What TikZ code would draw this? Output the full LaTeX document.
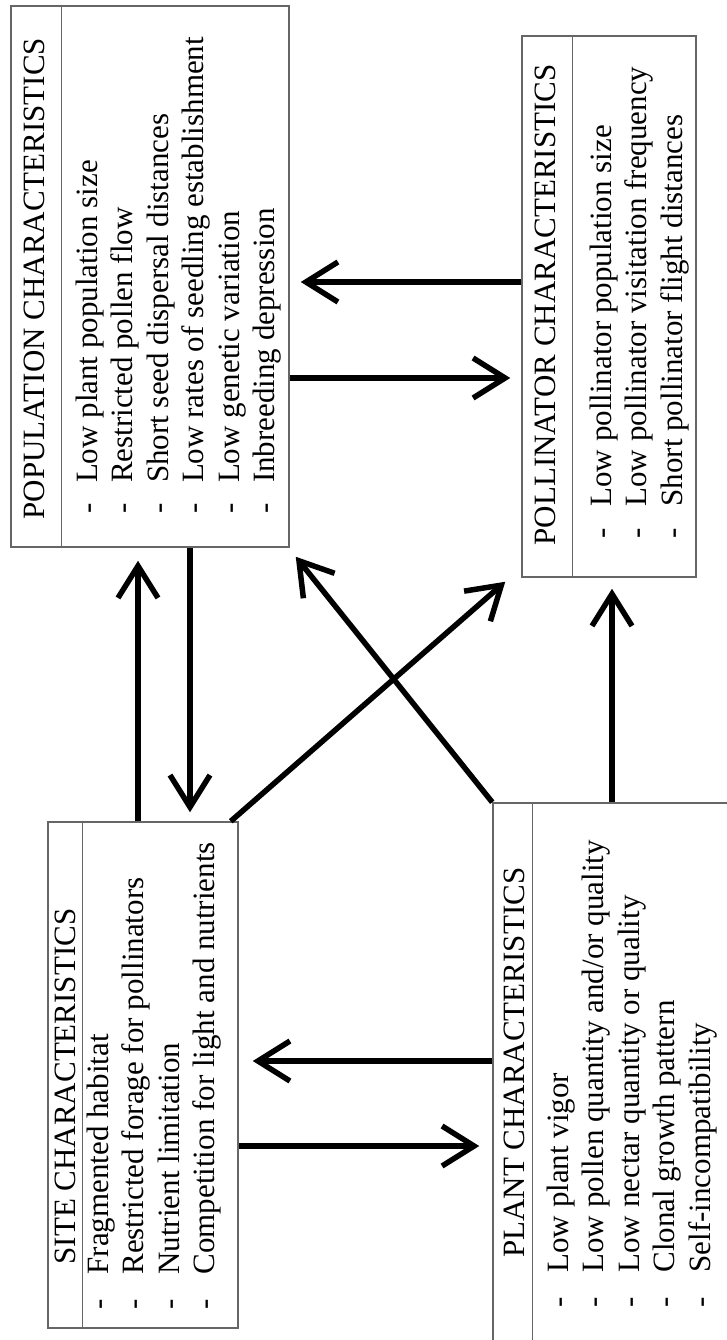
\documentclass[tikz,border=0pt]{standalone}
\usepackage{fontspec}
\setmainfont{Liberation Serif}
\usetikzlibrary{arrows.meta}

\newcommand{\charlist}[2]{\begin{tabular}[t]{@{}l@{\hspace{#1}}l@{}}#2\end{tabular}}

\begin{document}
\begin{tikzpicture}[x=1pt,y=-1pt,>={Straight Barb[length=32pt,width=40pt]},font=\fontsize{31pt}{35.5pt}\selectfont]

    % Define node styles
    \tikzstyle{char_box} = [draw=black!60, line width=1.5pt, inner sep=0pt]
    \tikzstyle{divider} = [draw=black!60, line width=1.5pt]
    \tikzstyle{title_text} = [rotate=90, anchor=base west, inner sep=0pt]
    \tikzstyle{list_text} = [rotate=90, anchor=base west, inner sep=0pt]
    \tikzstyle{link} = [->, line width=5.5pt]

    \useasboundingbox (0,0) rectangle (726,1340);

    % Draw boxes
    \node [char_box, minimum width=278pt, minimum height=541pt] (population_box) at (150,276.5) {};
    \node [char_box, minimum width=174pt, minimum height=541pt] (pollinator_box) at (609,306.5) {};
    \node [char_box, minimum width=190pt, minimum height=506pt] (site_box) at (143,1075) {};
    \node [char_box, minimum width=267pt, minimum height=577pt] (plant_box) at (626.5,1091.5) {};

    \draw [divider] ([xshift=51pt]population_box.north west) -- ([xshift=51pt]population_box.south west);
    \draw [divider] ([xshift=51pt]pollinator_box.north west) -- ([xshift=51pt]pollinator_box.south west);
    \draw [divider] ([xshift=35pt]site_box.north west) -- ([xshift=35pt]site_box.south west);
    \draw [divider] ([xshift=40pt]plant_box.north west) -- ([xshift=40pt]plant_box.south west);

    % Draw texts
    \node [title_text] (population_title) at (44.5,519.5) {POPULATION CHARACTERISTICS};
    \node [list_text] (population_list) at (97,513.5) {\charlist{20pt}{
        - & Low plant population size\\
        - & Restricted pollen flow\\
        - & Short seed dispersal distances\\
        - & Low rates of seedling establishment\\
        - & Low genetic variation\\
        - & Inbreeding depression}};

    \node [title_text] (pollinator_title) at (555,545.5) {POLLINATOR CHARACTERISTICS};
    \node [list_text] (pollinator_list) at (611,539) {\charlist{22pt}{
        - & Low pollinator population size\\
        - & Low pollinator visitation frequency\\
        - & Short pollinator flight distances}};

    \node [title_text] (site_title) at (75,1264.5) {SITE CHARACTERISTICS};
    \node [list_text] (site_list) at (108,1310) {\charlist{25pt}{
        - & Fragmented habitat\\
        - & Restricted forage for pollinators\\
        - & Nutrient limitation\\
        - & Competition for light and nutrients}};

    \node [title_text] (plant_title) at (524,1258) {PLANT CHARACTERISTICS};
    \node [list_text] (plant_list) at (568,1308) {\charlist{25pt}{
        - & Low plant vigor\\
        - & Low pollen quantity and/or quality\\
        - & Low nectar quantity or quality\\
        - & Clonal growth pattern\\
        - & Self-incompatibility}};

    % Draw arrows
    \draw [link, shorten >=11pt] (pollinator_box.west |- 0,282) -- (population_box.east |- 0,282);
    \draw [link, shorten >=11pt] (population_box.east |- 0,378) -- (pollinator_box.west |- 0,378);

    \draw [link, shorten >=13pt] (site_box.north -| 138,0) -- (population_box.south -| 138,0);
    \draw [link, shorten >=9pt] (population_box.south -| 190,0) -- (site_box.north -| 190,0);

    \draw [link] ([xshift=-8pt]site_box.north east) -- ([xshift=-16pt,yshift=-4pt]pollinator_box.south west);
    \draw [link] (plant_box.north west) -- ([xshift=6pt,yshift=-9pt]population_box.south east);

    \draw [link, shorten >=11pt] (plant_box.north -| 612,0) -- (pollinator_box.south -| 612,0);

    \draw [link, shorten >=14pt] (plant_box.west |- 0,1061) -- (site_box.east |- 0,1061);
    \draw [link, shorten >=13pt] (site_box.east |- 0,1146) -- (plant_box.west |- 0,1146);

\end{tikzpicture}
\end{document}
